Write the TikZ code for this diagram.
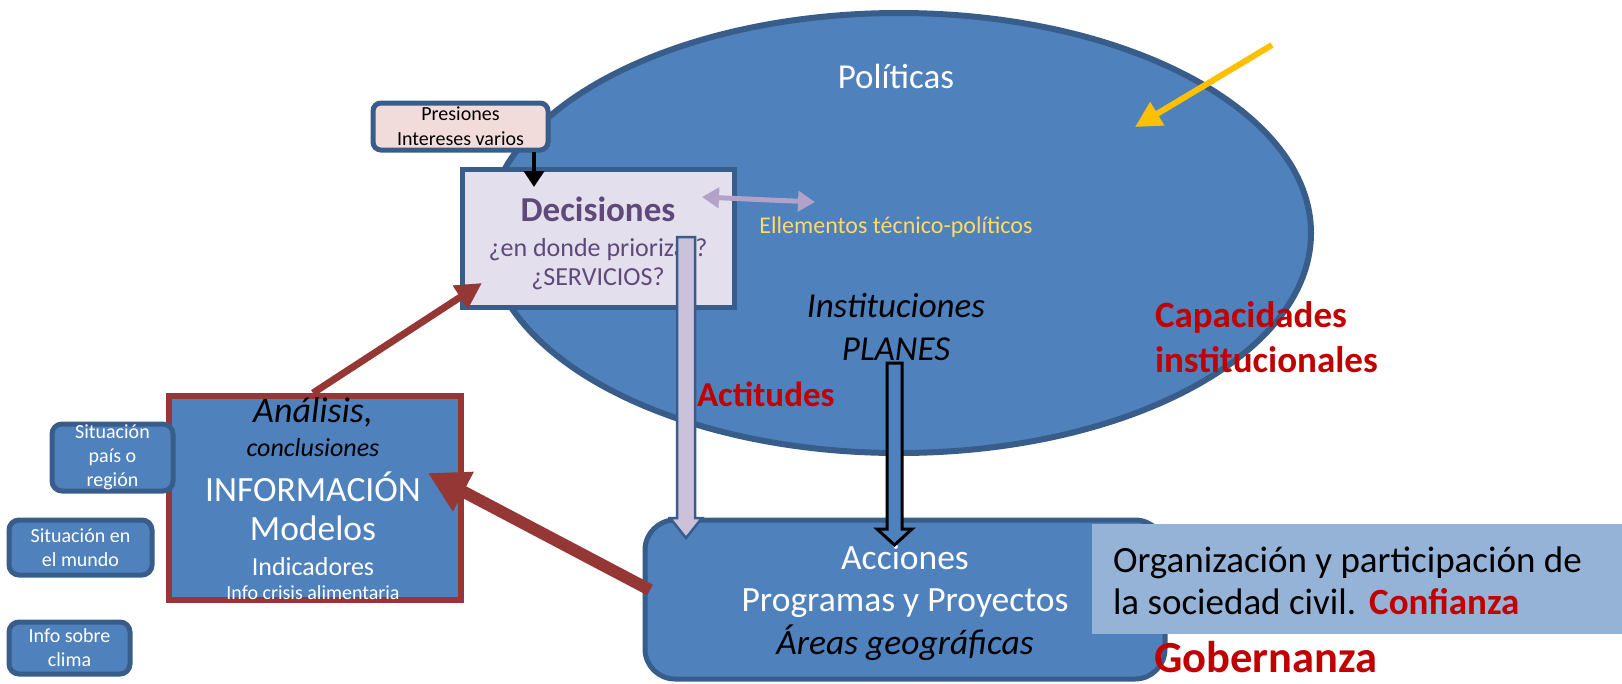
\documentclass[tikz,border=0pt]{standalone}
\usepackage{fontspec}
\setmainfont{Carlito}
\usetikzlibrary{arrows.meta,shapes.geometric}
\definecolor{fillblue}{HTML}{4F81BD}
\definecolor{edgeblue}{HTML}{385D8A}
\definecolor{lav}{HTML}{E4DFEC}
\definecolor{lavarrow}{HTML}{CCC1DA}
\definecolor{lavline}{HTML}{B3A2C7}
\definecolor{decpurple}{HTML}{5F497A}
\definecolor{pinkfill}{HTML}{F2DCDB}
\definecolor{redbrown}{HTML}{953735}
\definecolor{darkred}{HTML}{C00000}
\definecolor{lightblue}{HTML}{95B3D7}
\definecolor{gold}{HTML}{FFC000}
\definecolor{yellowtext}{HTML}{FFD966}
\begin{document}
\begin{tikzpicture}[x=1pt,y=-1pt,
  txt/.style={inner sep=0pt, outer sep=0pt},
  smallbox/.style={draw=edgeblue, fill=fillblue, line width=5pt, rounded corners=10pt, inner sep=0pt, text=white, align=center, font=\fontsize{20}{24}\selectfont},
  blockarrow/.style={line width=2.5pt, line join=miter},
]
\useasboundingbox (0,0) rectangle (1622,683);

% big ellipse
\node[ellipse, draw=edgeblue, fill=fillblue, line width=6pt, minimum width=824pt, minimum height=440pt, inner sep=0pt] (pol) at (899,233) {};
\node[txt, text=white, font=\fontsize{35}{42}\selectfont] (politicas) at (896,76) {Políticas};
\node[txt, text=yellowtext, font=\fontsize{24}{29}\selectfont] (elem) at (896,227) {Ellementos técnico-políticos};
\node[txt, align=center, font=\fontsize{35}{43}\itshape\selectfont] (inst) at (896,327.5) {Instituciones\\PLANES};
\node[txt, anchor=west, align=left, text=darkred, font=\fontsize{37}{45}\bfseries\selectfont] (capac) at (1155,337.5) {Capacidades\\institucionales};

% yellow arrow
\coordinate (ya1) at (1272,45);
\coordinate (ya2) at (1135,127);
\draw[gold, line width=6pt, -{Triangle[length=26pt,width=26pt]}] (ya1) -- (ya2);

% Decisiones box
\node[draw=edgeblue, fill=lav, line width=5.5pt, minimum width=272pt, minimum height=138pt, inner sep=0pt] (dec) at (598.5,238.5) {};
\node[txt, text=decpurple, font=\fontsize{35}{42}\bfseries\selectfont] (dectitle) at (598,209) {Decisiones};
\node[txt, text=decpurple, font=\fontsize{26}{31}\selectfont] (dec2) at (598,250) {¿en donde priorizar?};
\node[txt, text=decpurple, font=\fontsize{26}{31}\selectfont] (dec3) at (598,279) {¿SERVICIOS?};

% Presiones box
\node[draw=edgeblue, fill=pinkfill, line width=5pt, rounded corners=8pt, minimum width=175pt, minimum height=47pt, inner sep=0pt, align=center, font=\fontsize{20}{25}\selectfont] (pres) at (460.5,126.5) {Presiones\\Intereses varios};
\coordinate (pa1) at (534,152);
\coordinate (pa2) at (534,187);
\draw[black, line width=4pt, -{Triangle[length=16pt,width=20pt]}] (pa1) -- (pa2);

% lavender double arrow
\coordinate (la1) at (702,197);
\coordinate (la2) at (815,202);
\draw[lavline, line width=5pt, {Triangle[length=17pt,width=20pt]}-{Triangle[length=17pt,width=20pt]}] (la1) -- (la2);

% Analisis box
\node[draw=redbrown, fill=fillblue, line width=6pt, minimum width=292pt, minimum height=204pt, inner sep=0pt] (ana) at (314.5,497.5) {};
\node[txt, font=\fontsize{36}{42}\itshape\selectfont] (ana1) at (313,412) {Análisis,};
\node[txt, font=\fontsize{26}{31}\itshape\selectfont] (ana2) at (313,448) {conclusiones};
\node[txt, text=white, font=\fontsize{35.5}{42}\selectfont] (ana3) at (313,487) {INFORMACIÓN};
\node[txt, text=white, font=\fontsize{35.5}{42}\selectfont] (ana4) at (313,528) {Modelos};
\node[txt, text=white, font=\fontsize{26}{31}\selectfont] (ana5) at (313,567) {Indicadores};
\node[txt, text=white, font=\fontsize{20}{24}\selectfont] (ana6) at (313,593) {Info crisis alimentaria};

% small boxes
\node[smallbox, minimum width=121pt, minimum height=67pt] (sit1) at (112.5,457.5) {Situación\\país o\\región};
\node[smallbox, minimum width=143pt, minimum height=55pt] (sit2) at (80.5,547.5) {Situación en\\el mundo};
\node[smallbox, minimum width=121pt, minimum height=52pt] (clima) at (69.5,648) {Info sobre\\clima};

% Acciones box
\node[draw=edgeblue, fill=fillblue, line width=5pt, rounded corners=30pt, minimum width=520pt, minimum height=159pt, inner sep=0pt] (acc) at (905,599.5) {};
\node[txt, text=white, align=center, font=\fontsize{35.5}{42.5}\selectfont] (acctext) at (905,602.5) {Acciones\\Programas y Proyectos\\{\itshape\color{black}Áreas geográficas}};

% Organizacion box
\node[fill=lightblue, minimum width=533pt, minimum height=110pt, inner sep=0pt] (org) at (1358.5,579) {};
\node[txt, anchor=west, align=left, font=\fontsize{37}{42}\selectfont] (orgtext) at (1113,581) {Organización y participación de\\la sociedad civil.\hspace{0.35em}{\bfseries\color{darkred}Confianza}};
\node[txt, anchor=west, text=darkred, font=\fontsize{44.5}{50}\bfseries\selectfont] (gob) at (1154,657) {Gobernanza};

% block arrows
\draw[blockarrow, draw=edgeblue, fill=lavarrow] (677,237) -- (695,237) -- (695,518) -- (702,518) -- (686,538) -- (670,518) -- (677,518) -- cycle;
\draw[blockarrow, draw=black, fill=fillblue, line width=3pt] (887,363) -- (902,363) -- (902,529) -- (912,529) -- (894.5,545) -- (877,529) -- (887,529) -- cycle;

\node[txt, anchor=west, text=darkred, font=\fontsize{35}{42}\bfseries\selectfont] (actit) at (697,394) {Actitudes};

% red arrows
\coordinate (ra1) at (313,393);
\coordinate (ra2) at (482,283);
\draw[redbrown, line width=7pt, -{Triangle[length=26pt,width=26pt]}] (ra1) -- (ra2);
\coordinate (rb1) at (650,590);
\coordinate (rb2) at (428,473);
\draw[redbrown, line width=12pt, -{Triangle[length=40pt,width=42pt]}] (rb1) -- (rb2);
\end{tikzpicture}
\end{document}
